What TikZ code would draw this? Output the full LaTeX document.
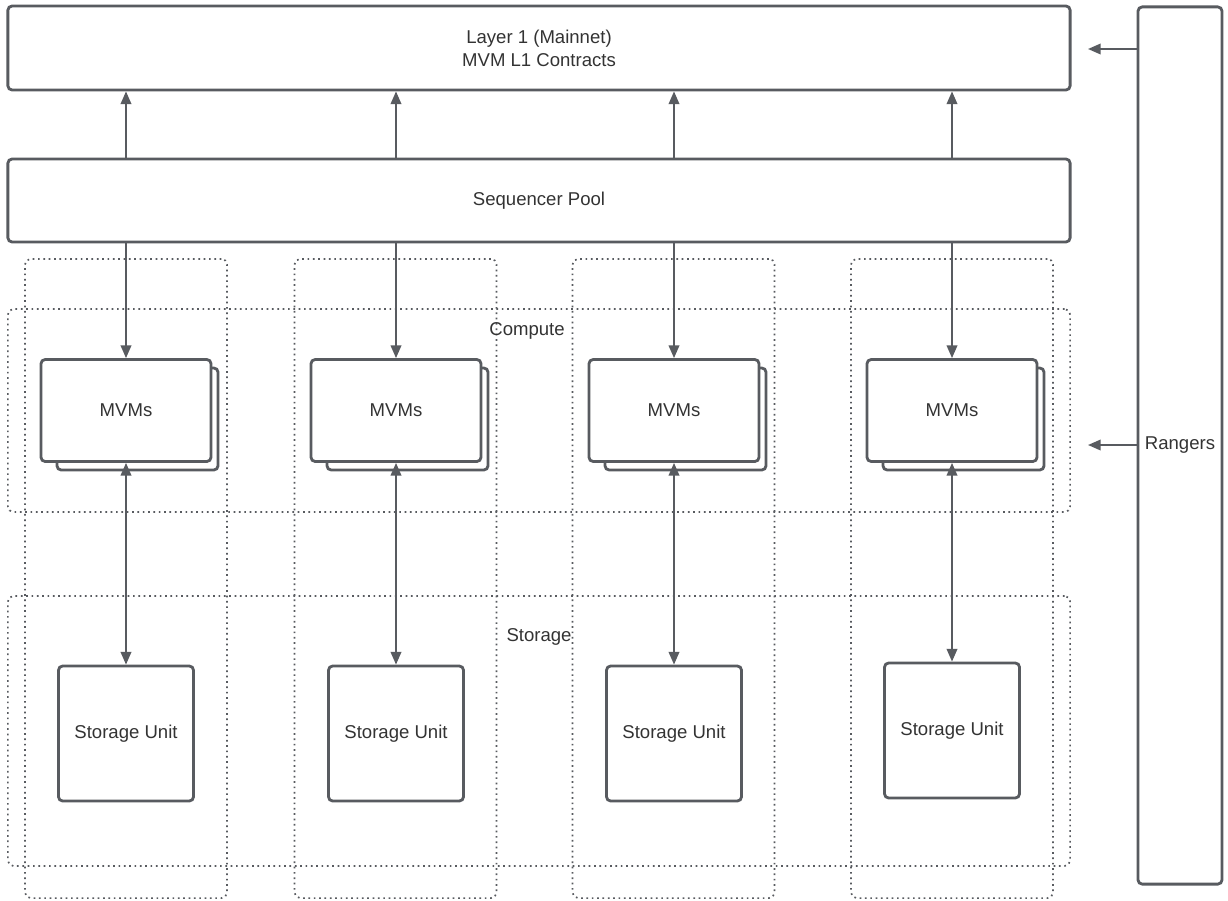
\documentclass[tikz,border=0pt]{standalone}
\usepackage{fontspec}
\setmainfont{Liberation Sans}
\usetikzlibrary{arrows.meta}
\definecolor{edge}{RGB}{88,91,96}
\definecolor{ink}{RGB}{51,51,51}
\tikzset{
  box/.style={draw=edge,line width=2pt,rounded corners=3pt,fill=white,inner sep=0pt,
    text=ink,font=\fontsize{13.2}{16.3}\selectfont,align=center},
  group/.style={draw=edge,line width=1.2pt,dash pattern=on 1.2pt off 2.6pt,rounded corners=4pt,inner sep=0pt},
  arr/.style={draw=edge,line width=1.3pt,-{Triangle[length=9pt,width=7.5pt]}},
  darr/.style={draw=edge,line width=1.3pt,{Triangle[length=9pt,width=7.5pt]}-{Triangle[length=9pt,width=7.5pt]}},
  lbl/.style={text=ink,font=\fontsize{13.2}{16.3}\selectfont}
}
\begin{document}
\begin{tikzpicture}[x={(0.025cm,0)},y={(0,-0.025cm)}]
    \useasboundingbox[fill=white] (0,0) rectangle (1228,900);
    % dotted groups
    \foreach \i/\x in {1/126,2/395.5,3/673.5,4/952}
        \node[group,minimum width=5.05cm,minimum height=15.975cm] (col\i) at (\x,578.5) {};
    \node[group,minimum width=26.55cm,minimum height=5.075cm] (compute) at (539,410.5) {};
    \node[group,minimum width=26.55cm,minimum height=6.75cm] (storage) at (539,731) {};
    \node[lbl] at (527,331) {Compute};
    \node[lbl] at (539,637) {Storage};
    % main boxes
    \node[box,minimum width=26.55cm,minimum height=2.1cm] (l1) at (539,48) {Layer 1 (Mainnet)\\MVM L1 Contracts};
    \node[box,minimum width=26.55cm,minimum height=2.075cm] (seq) at (539,200.5) {Sequencer Pool};
    \node[box,minimum width=2.1cm,minimum height=21.925cm] (rng) at (1180,445.5) {Rangers};
    % columns
    \foreach \i/\x/\y in {1/126/733.5,2/396/733.5,3/674/733.5,4/952/730.5} {
        \node[box,minimum width=4.025cm,minimum height=2.55cm] (back\i) at (\x+11.5,419) {};
        \node[box,minimum width=4.25cm,minimum height=2.55cm] (mvm\i) at (\x,410.5) {MVMs};
        \node[box,minimum width=3.375cm,minimum height=3.375cm] (su\i) at (\x,\y) {Storage Unit};
        \draw[arr] (mvm\i.north |- seq.north) -- (mvm\i.north |- l1.south);
        \draw[arr] (mvm\i.north |- seq.south) -- (mvm\i.north);
        \draw[darr] (mvm\i.south) -- (su\i.north);
    }
    % rangers
    \coordinate (r1) at (1088,49);
    \coordinate (r2) at (1088,445);
    \draw[arr] (rng.west |- r1) -- (r1);
    \draw[arr] (rng.west |- r2) -- (r2);
\end{tikzpicture}
\end{document}
